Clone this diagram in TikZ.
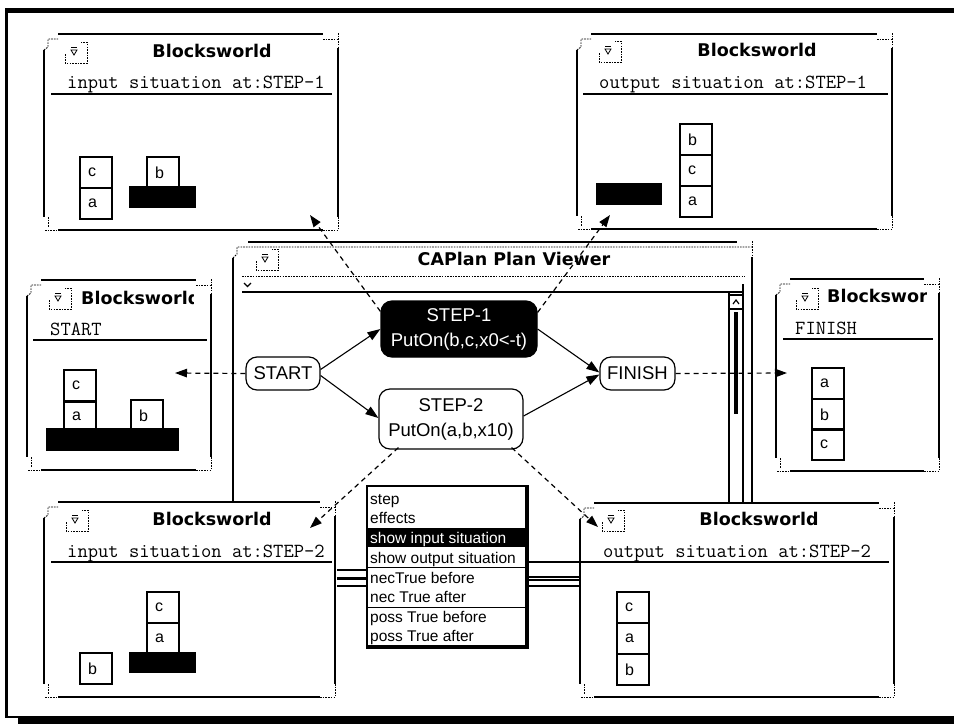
\documentclass[tikz,border=0pt]{standalone}
\usepackage{fontspec}
\usetikzlibrary{arrows.meta,calc}
\newfontfamily\uisans{Liberation Sans}
\newfontfamily\uititle[BoldFont={DejaVu Sans Bold}]{DejaVu Sans}

\tikzset{
  winedge/.style={line width=2.4pt},
  windot/.style={line width=0.9pt, dash pattern=on 1.6pt off 1.1pt},
  thinline/.style={line width=1.1pt},
  blockbox/.style={draw, line width=2.2pt, minimum width=32pt, minimum height=31pt, inner sep=0pt, anchor=north west},
  blocklbl/.style={font=\uisans\fontsize{16}{18}\selectfont, anchor=west, inner sep=0pt},
  wintitle/.style={font=\uititle\bfseries\fontsize{17.5}{20}\selectfont, anchor=base, inner sep=0pt},
  winsub/.style={font=\ttfamily\fontsize{20}{22}\selectfont, anchor=base west, inner sep=0pt},
  sepline/.style={line width=1.3pt},
  plannode/.style={draw, line width=1.2pt, rounded corners=11pt, font=\uisans\fontsize{18.5}{25}\selectfont, align=center, inner sep=0pt},
  flow/.style={line width=1.1pt, -{Triangle[length=13pt,width=9pt]}},
  link/.style={line width=1.2pt, dash pattern=on 5pt off 4pt, -{Triangle[length=12pt,width=8.5pt]}},
  menuitem/.style={font=\uisans\fontsize{15.5}{18}\selectfont, anchor=base west, inner sep=0pt},
}

% window frame: thick edges with dotted resize corners
\newcommand{\bwframe}[4]{%
  \fill[white] (#1,#2) rectangle (#3,#4);
  \draw[winedge] (#1+14,#2) -- (#3-15,#2);
  \draw[winedge] (#1+14,#4) -- (#3-15,#4);
  \draw[winedge] (#1,#2+16) -- (#1,#4-13);
  \draw[winedge] (#3,#2+14) -- (#3,#4-13);
  \draw[windot] (#1,#2+16) -- (#1+4,#2+13) -- (#1+4,#2+5) -- (#1+14,#2+5);
  \draw[windot] (#3-15,#2+5) -- (#3-1,#2+5);
  \draw[windot] (#3,#2-1) -- (#3,#2+14);
  \draw[windot] (#1+4,#4-13) -- (#1+4,#4-3);
  \draw[windot] (#1+1,#4) -- (#1+14,#4);
  \draw[windot] (#3,#4-13) -- (#3,#4);
  \draw[windot] (#3-15,#4) -- (#3,#4);
}
% close box in the title bar
\newcommand{\winicon}[2]{%
  \draw[windot] (#1,#2+12) -- (#1,#2+21) -- (#1+22,#2+21) -- (#1+22,#2) -- (#1+16,#2);
  \draw[line width=0.8pt] (#1+6,#2+5) -- (#1+12,#2+5);
  \draw[line width=0.8pt] (#1+6,#2+8) -- (#1+12,#2+8) -- (#1+9,#2+13) -- cycle;
}

\begin{document}
\begin{tikzpicture}[x=1pt,y=-1pt]
\useasboundingbox (0,0) rectangle (954,724);
\fill[white] (0,0) rectangle (954,724);

% outer frame with shadow
\fill (5,8) rectangle (954,13);
\fill (5,8) rectangle (8,718);
\draw[line width=1.5pt] (5,717) -- (954,717);
\fill (18,718) rectangle (954,724);

% ---------- plan viewer ----------
\draw[winedge] (233,258) -- (233,502);
\draw[winedge] (752,257) -- (752,502);
\draw[winedge] (248,242) -- (737,242);
\draw[windot] (233,258) -- (237,254) -- (237,247) -- (752,247);
\draw[windot] (752,241) -- (752,257);
\winicon{256}{249}
\node[wintitle] (vtitle) at (514,265.5) {CAPlan Plan Viewer};
\draw[windot] (242,276) -- (745,276);
\draw[thinline] (242,292) -- (743,292) -- (743,284);
\draw[line width=1.2pt] (244,283) -- (247.5,286.5) -- (251,283);
% vertical scroll bar
\draw[thinline] (729,293) -- (729,502);
\draw[thinline] (743,292) -- (743,502);
\draw[thinline] (729,295) -- (743,295);
\draw[thinline] (729,309) -- (743,309);
\draw[line width=1.2pt] (733,304) -- (736,300) -- (739,304);
\draw[line width=3.5pt] (736,312) -- (736,414);

% plan graph
\node[plannode, minimum width=74pt, minimum height=33pt] (start) at (283,373.5) {START};
\node[plannode, minimum width=75pt, minimum height=33pt] (finish) at (637.5,373.5) {FINISH};
\node[plannode, fill=black, text=white, minimum width=156pt, minimum height=56pt] (step1) at (459,329) {STEP-1\\PutOn(b,c,x0<-t)};
\node[plannode, minimum width=144pt, minimum height=60pt] (step2) at (451,419) {STEP-2\\PutOn(a,b,x10)};

\draw[flow] ($(start.east)+(0,-4)$) -- (step1.west);
\draw[flow] ($(start.east)+(0,2)$) -- ($(step2.west)+(0,-1)$);
\draw[flow] (step1.east) -- ($(finish.west)+(0,-1)$);
\draw[flow] ($(step2.east)+(0,-3)$) -- ($(finish.west)+(0,1)$);

% ---------- input situation at STEP-1 ----------
\bwframe{44}{34}{338}{230}
\winicon{65}{42}
\node[wintitle] (w1t) at (212,57) {Blocksworld};
\node[winsub] (w1s) at (67,88) {input situation at:STEP-1};
\draw[sepline] (51,94) -- (332,94);
\node[blockbox] (w1c) at (79,156) {};
\node[blockbox] (w1a) at (79,187) {};
\node[blockbox] (w1b) at (146,156) {};
\fill (129,186) rectangle (196,208);
\node[blocklbl] at ($(w1c.west)+(9,0)$) {c};
\node[blocklbl] at ($(w1a.west)+(9,0)$) {a};
\node[blocklbl] at ($(w1b.west)+(9,0)$) {b};

% ---------- output situation at STEP-1 ----------
\bwframe{577}{34}{892}{229}
\winicon{599}{41}
\node[wintitle] (w2t) at (757,56) {Blocksworld};
\node[winsub] (w2s) at (599,88) {output situation at:STEP-1};
\draw[sepline] (583,94) -- (888,94);
\fill (596,183) rectangle (662,205);
\node[blockbox] (w2b) at (679,123) {};
\node[blockbox] (w2c) at (679,154) {};
\node[blockbox] (w2a) at (679,185) {};
\node[blocklbl] at ($(w2b.west)+(9,0)$) {b};
\node[blocklbl] at ($(w2c.west)+(9,0)$) {c};
\node[blocklbl] at ($(w2a.west)+(9,0)$) {a};

% ---------- START situation ----------
\bwframe{27}{280}{211}{470}
\winicon{49}{288}
\begin{scope}
  \clip (70,285) rectangle (193,312);
  \node[wintitle, anchor=base west] (w3t) at (81,304) {Blocksworld};
\end{scope}
\node[winsub] (w3s) at (50,335) {START};
\draw[sepline] (33,340) -- (207,340);
\node[blockbox] (w3c) at (63,369) {};
\node[blockbox, minimum height=29pt] (w3a) at (63,401) {};
\node[blockbox] (w3b) at (130,399) {};
\fill (46,428) rectangle (179,451);
\node[blocklbl] at ($(w3c.west)+(9,0)$) {c};
\node[blocklbl] at ($(w3a.west)+(9,0)$) {a};
\node[blocklbl] at ($(w3b.west)+(9,0)$) {b};

% ---------- FINISH situation ----------
\bwframe{776}{279}{939}{471}
\winicon{796}{288}
\begin{scope}
  \clip (820,285) rectangle (926,312);
  \node[wintitle, anchor=base west] (w4t) at (827,302) {Blocksworld};
\end{scope}
\node[winsub] (w4s) at (795,334) {FINISH};
\draw[sepline] (783,339) -- (933,339);
\node[blockbox] (w4a) at (811,367) {};
\node[blockbox] (w4b) at (811,398) {};
\node[blockbox] (w4c) at (811,428) {};
\node[blocklbl] at ($(w4a.west)+(9,0)$) {a};
\node[blocklbl] at ($(w4b.west)+(9,0)$) {b};
\node[blocklbl] at ($(w4c.west)+(9,0)$) {c};

% ---------- input situation at STEP-2 ----------
\bwframe{44}{502}{335}{697}
\winicon{66}{510}
\node[wintitle] (w5t) at (212,525) {Blocksworld};
\node[winsub] (w5s) at (67,557) {input situation at:STEP-2};
\draw[sepline] (51,562) -- (332,562);
\node[blockbox] (w5c) at (146,591) {};
\node[blockbox] (w5a) at (146,622) {};
\fill (129,652) rectangle (196,673);
\node[blockbox] (w5b) at (79,652) {};
\node[blocklbl] at ($(w5c.west)+(9,0)$) {c};
\node[blocklbl] at ($(w5a.west)+(9,0)$) {a};
\node[blocklbl] at ($(w5b.west)+(9,0)$) {b};

% ---------- output situation at STEP-2 ----------
\bwframe{580}{503}{894}{697}
\winicon{602}{510}
\node[wintitle] (w6t) at (759,525) {Blocksworld};
\node[winsub] (w6s) at (603,557) {output situation at:STEP-2};
\draw[sepline] (587,562) -- (889,562);
\node[blockbox] (w6c) at (616,591) {};
\node[blockbox] (w6a) at (616,622) {};
\node[blockbox] (w6b) at (616,653) {};
\node[blocklbl] at ($(w6c.west)+(9,0)$) {c};
\node[blocklbl] at ($(w6a.west)+(9,0)$) {a};
\node[blocklbl] at ($(w6b.west)+(9,0)$) {b};

% horizontal bar behind the pop-up menu
\draw[thinline] (337,570) -- (367,570);
\draw[line width=3pt] (337,578) -- (367,578);
\draw[thinline] (337,586) -- (367,586);
\draw[thinline] (528,562) -- (587,562);
\draw[thinline] (528,577) -- (580,577);
\draw[thinline] (528,580) -- (580,580);
\draw[thinline] (528,586) -- (580,586);

% ---------- pop-up menu ----------
\fill[white] (367,486) rectangle (528,648);
\draw[line width=1.2pt] (367,486) rectangle (528,648);
\draw[line width=3pt] (526.5,486) -- (526.5,648);
\draw[line width=3pt] (367,646.5) -- (528,646.5);
\fill (367,528) rectangle (528,547);
\draw[line width=1pt] (367,567) -- (528,567);
\draw[line width=1pt] (367,607) -- (528,607);
\node[menuitem] (m1) at (370,504) {step};
\node[menuitem] (m2) at (370,523.5) {effects};
\node[menuitem, text=white] (m3) at (370,543) {show input situation};
\node[menuitem] (m4) at (370,563) {show output situation};
\node[menuitem] (m5) at (370,583) {necTrue before};
\node[menuitem] (m6) at (370,602.5) {nec True after};
\node[menuitem] (m7) at (370,622) {poss True before};
\node[menuitem] (m8) at (370,641.5) {poss True after};

% ---------- links from plan steps to situation windows ----------
\coordinate (tip1) at (310,215);
\coordinate (tip2) at (610,215);
\coordinate (tip3) at (175,373);
\coordinate (tip4) at (787,373);
\coordinate (tip5) at (310,528);
\coordinate (tip6) at (598,527);
\draw[link] ($(step1.north west)+(0,11)$) -- (tip1);
\draw[link] ($(step1.north east)+(0,12)$) -- (tip2);
\draw[link] (start.west) -- (tip3);
\draw[link] (finish.east) -- (tip4);
\draw[link] ($(step2.south west)+(20,-2)$) -- (tip5);
\draw[link] ($(step2.south east)+(-12,-2)$) -- (tip6);
\end{tikzpicture}
\end{document}
